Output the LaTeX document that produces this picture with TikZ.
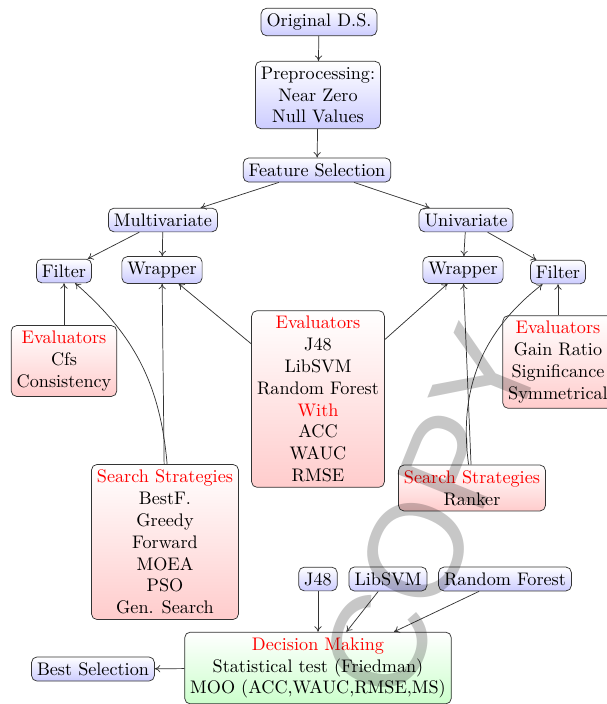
\documentclass[tikz,border=0pt]{standalone}
\usepackage{fontspec}
\newfontfamily\wmfont{Liberation Sans}
\usetikzlibrary{arrows.meta}
\tikzset{
  base/.style={draw=black!80, rounded corners=3pt, align=center, inner sep=3pt, font=\normalsize},
  bluebox/.style={base, top color=white, bottom color=blue!20},
  redbox/.style={base, top color=white, bottom color=red!20},
  greenbox/.style={base, top color=white, bottom color=green!20},
  conn/.style={draw=black!80, -{To[length=3pt,width=4pt]}, line width=0.4pt},
}
\begin{document}
\begin{tikzpicture}[x=0.55pt,y=-0.55pt]
\useasboundingbox (0,0) rectangle (607,704);
\node[bluebox] (orig) at (319,22) {Original D.S.};
\node[bluebox] (prep) at (318,95) {Preprocessing:\\Near Zero\\Null Values};
\node[bluebox] (fs) at (317,170) {Feature Selection};
\node[bluebox] (multi) at (163,220) {Multivariate};
\node[bluebox] (uni) at (466,220) {Univariate};
\node[bluebox] (fl) at (64,271) {Filter};
\node[bluebox] (wl) at (162,270) {Wrapper};
\node[bluebox] (wr) at (463,270) {Wrapper};
\node[bluebox] (fr) at (558,272) {Filter};
\node[redbox] (el) at (64,361) {\textcolor{red}{Evaluators}\\Cfs\\Consistency};
\node[redbox] (em) at (318,399) {\textcolor{red}{Evaluators}\\J48\\LibSVM\\Random Forest\\\textcolor{red}{With}\\ACC\\WAUC\\RMSE};
\node[redbox] (er) at (558,362) {\textcolor{red}{Evaluators}\\Gain Ratio\\Significance\\Symmetrical};
\node[redbox] (sl) at (165,542) {\textcolor{red}{Search Strategies}\\BestF.\\Greedy\\Forward\\MOEA\\PSO\\Gen. Search};
\node[redbox] (sr) at (472,488) {\textcolor{red}{Search Strategies}\\Ranker};
\node[bluebox] (j48) at (318,579) {J48};
\node[bluebox] (svm) at (388,579) {LibSVM};
\node[bluebox] (rf) at (505,579) {Random Forest};
\node[greenbox] (dm) at (318,668) {\textcolor{red}{Decision Making}\\Statistical test (Friedman)\\MOO (ACC,WAUC,RMSE,MS)};
\node[bluebox] (best) at (93,669) {Best Selection};

\draw[conn] (orig) -- (prep);
\draw[conn] (prep) -- (fs);
\draw[conn] (fs) -- (multi);
\draw[conn] (fs) -- (uni);
\draw[conn] (multi) -- (fl);
\draw[conn] (multi) -- (wl);
\draw[conn] (uni) -- (wr);
\draw[conn] (uni) -- (fr);
\draw[conn] (el) -- (fl);
\draw[conn] (sl) to[bend right=22] (fl);
\draw[conn] (sl) -- (wl);
\draw[conn] (em) -- (wl);
\draw[conn] (em) -- (wr);
\draw[conn] (er) -- (fr);
\draw[conn] (sr) -- (wr);
\draw[conn] (sr) to[bend left=30] (fr);
\draw[conn] (j48) -- (dm);
\draw[conn] (svm) -- (dm);
\draw[conn] (rf) -- (dm);
\draw[conn] (dm) -- (best);

\node[rotate=68, text=black, opacity=0.22, font=\wmfont\fontsize{74}{80}\selectfont] (wm) at (432,512) {COPY};
\end{tikzpicture}
\end{document}
